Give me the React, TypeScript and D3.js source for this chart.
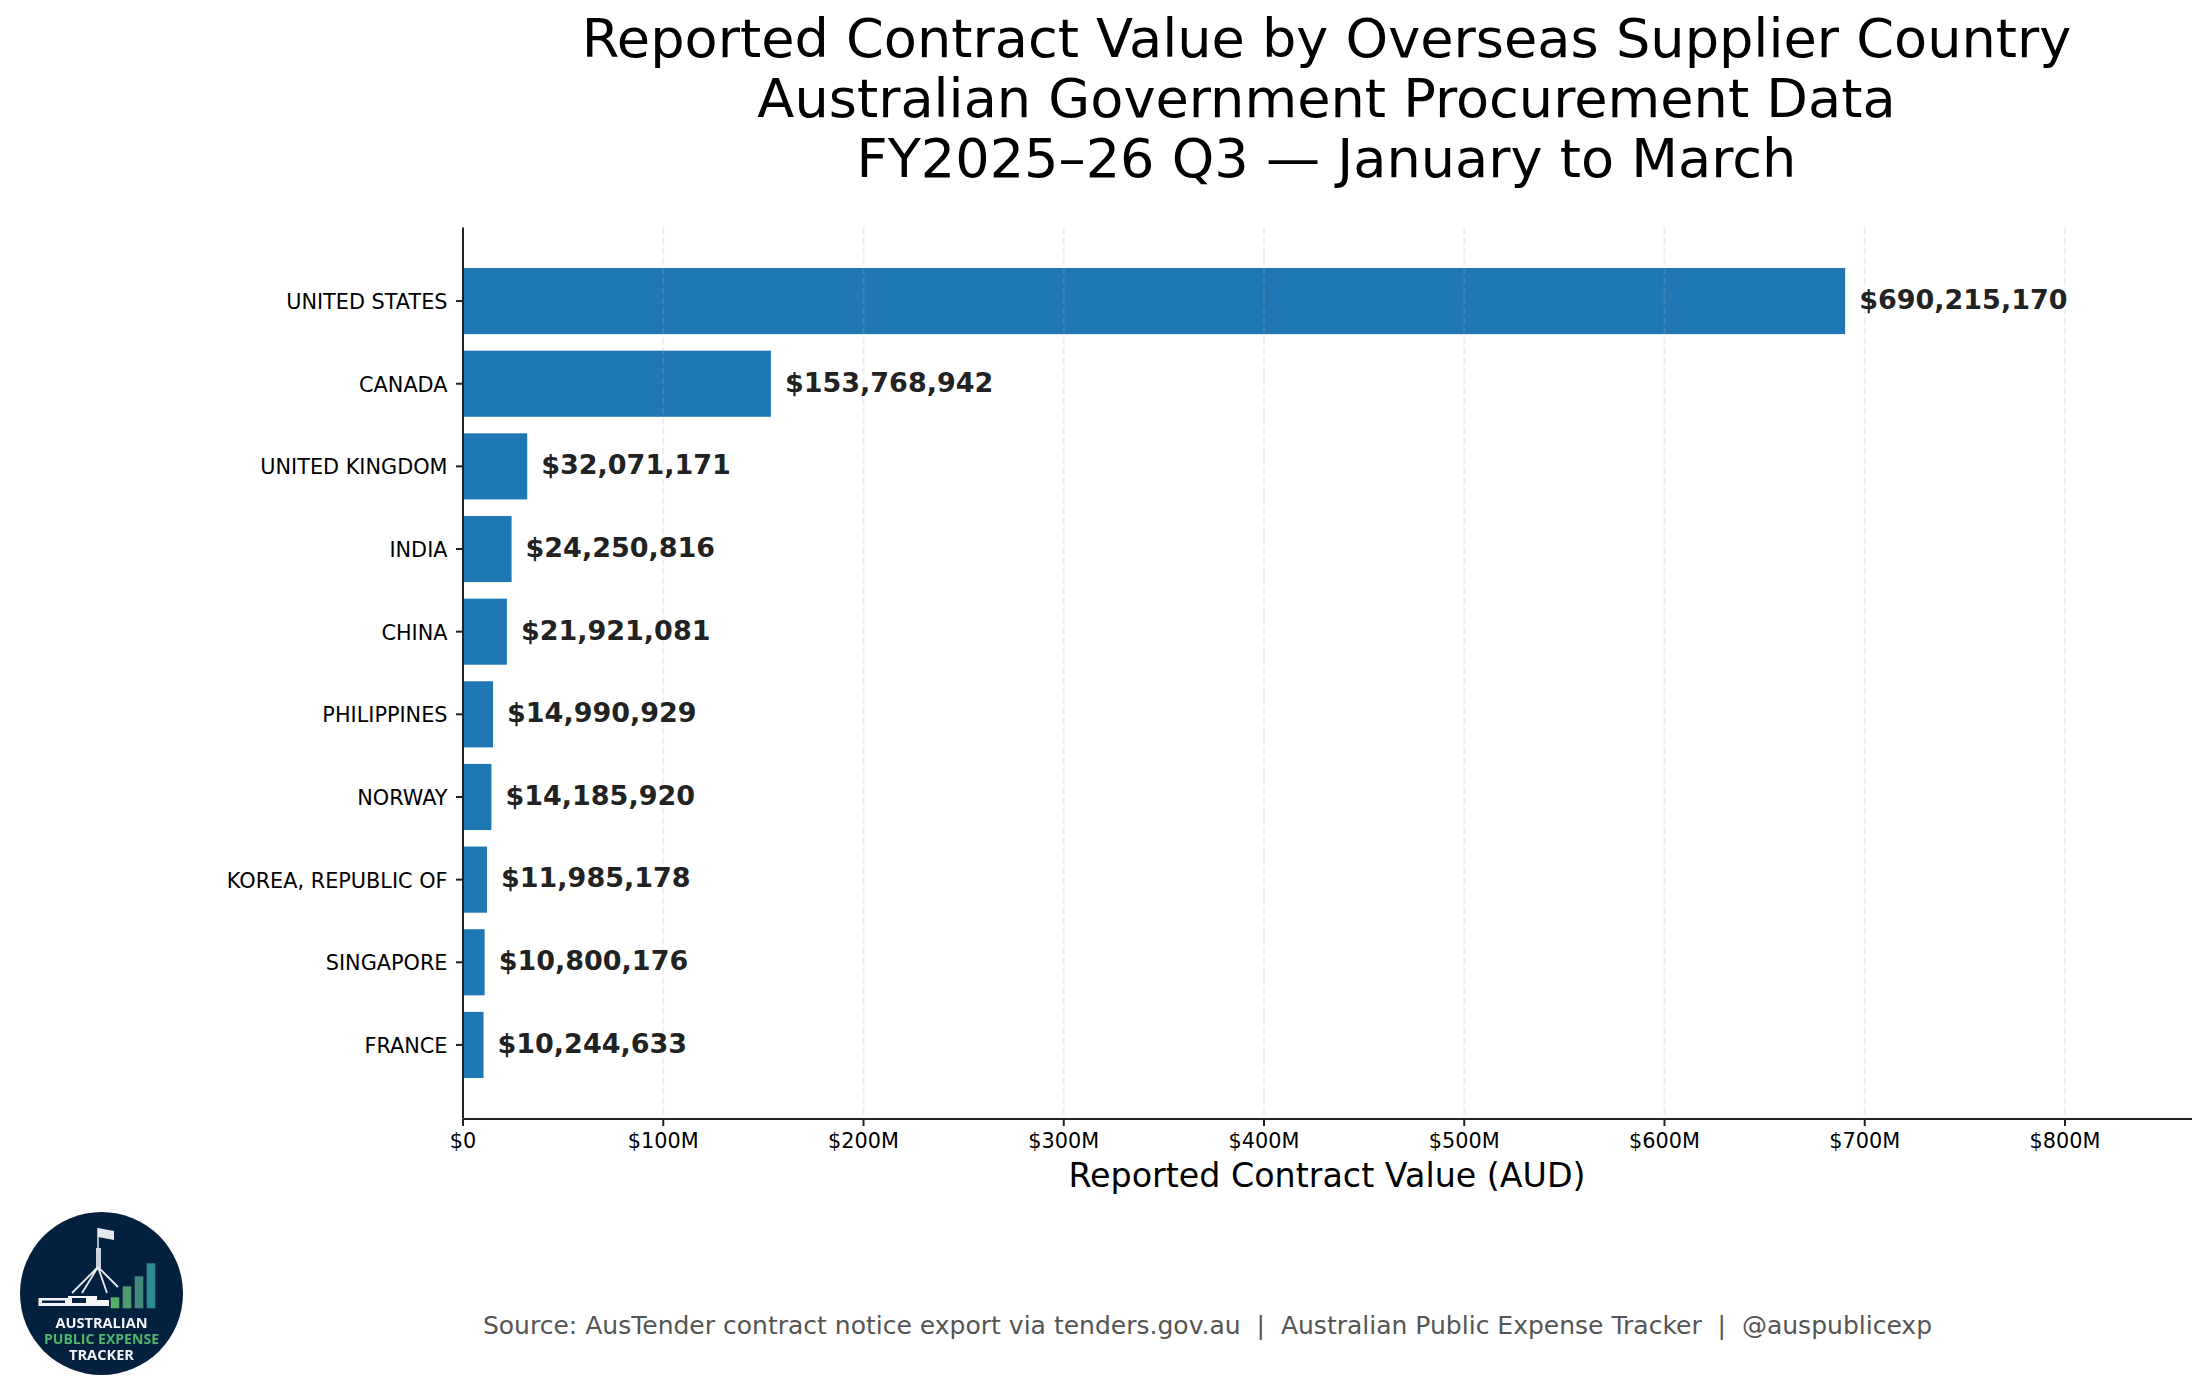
import React, { useEffect, useRef } from 'react';
import * as d3 from 'd3';

const countries = [
  'UNITED STATES',
  'CANADA',
  'UNITED KINGDOM',
  'INDIA',
  'CHINA',
  'PHILIPPINES',
  'NORWAY',
  'KOREA, REPUBLIC OF',
  'SINGAPORE',
  'FRANCE',
];
const contractValues = [
  690215170, 153768942, 32071171, 24250816, 21921081, 14990929, 14185920, 11985178, 10800176, 10244633,
];
const xTicks = [0, 100e6, 200e6, 300e6, 400e6, 500e6, 600e6, 700e6, 800e6];
const titleLines = [
  'Reported Contract Value by Overseas Supplier Country',
  'Australian Government Procurement Data',
  'FY2025–26 Q3 — January to March',
];
const xLabel = 'Reported Contract Value (AUD)';
const sourceText = 'Source: AusTender contract notice export via tenders.gov.au  |  Australian Public Expense Tracker  |  @auspublicexp';
const logoBars = [11, 22, 32, 45];
const logoBarColors = ['#58ad66', '#4f9a70', '#43897b', '#2f8a8e'];

const font = '"DejaVu Sans", sans-serif';

function Logo() {
  const cx = 101.5;
  const cy = 1293.5;
  return (
    <g style={{ filter: 'blur(0.5px)' }}>
      <circle cx={cx} cy={cy} r={81.5} fill="#04203f" />
      {/* parliament house flagpole and legs */}
      <rect x={96} y={1248} width={5} height={20} fill="#c9d2da" />
      <path d="M98 1228 V1250" stroke="#dfe5ea" strokeWidth={1.5} />
      <path d="M98 1228 l16 3 v9 l-16 -3 z" fill="#e4e9ee" />
      <path
        d="M98 1267 L72 1293 M98 1267 L82 1293 M98 1267 L107 1293 M98 1267 L118 1287"
        stroke="#e8edf1"
        strokeWidth={1.8}
        fill="none"
      />
      <rect x={38.5} y={1298} width={30} height={8} fill="#f3f5f7" />
      <rect x={68} y={1296} width={41} height={10} fill="#f3f5f7" />
      <rect x={42} y={1300.5} width={23} height={2.5} fill="#04203f" />
      <rect x={72} y={1298} width={14} height={5} fill="#04203f" />
      <rect x={97} y={1296} width={12} height={4} fill="#04203f" />
      {logoBars.map((h, i) => (
        <rect key={i} x={110.7 + i * 12} y={1308.3 - h} width={8.6} height={h} fill={logoBarColors[i]} />
      ))}
      <g fontFamily='"Open Sans", sans-serif' fontWeight={700} fontSize={14} textAnchor="middle">
        <text x={cx} y={1328} fill="#f2f4f6" textLength={92} lengthAdjust="spacingAndGlyphs">AUSTRALIAN</text>
        <text x={cx} y={1344} fill="#4fb56b" textLength={115} lengthAdjust="spacingAndGlyphs">PUBLIC EXPENSE</text>
        <text x={cx} y={1360} fill="#f2f4f6" textLength={65} lengthAdjust="spacingAndGlyphs">TRACKER</text>
      </g>
    </g>
  );
}

export default function App() {
  const ref = useRef<SVGSVGElement | null>(null);

  useEffect(() => {
    const margin = { top: 227.5, bottom: 278.5, left: 463, right: 13 };
    const width = 2205;
    const height = 1397;

    const svg = d3.select(ref.current);
    const chart = svg.select<SVGGElement>('#chart');
    chart.selectAll('*').remove();

    const xScale = d3
      .scaleLinear()
      .domain([0, (width - margin.right - margin.left) / (200.25 / 100e6)])
      .range([margin.left, width - margin.right]);

    const yScale = d3
      .scaleBand()
      .domain(countries)
      .range([margin.top, height - margin.bottom])
      .paddingInner(0.2)
      .paddingOuter(0.49);

    const axisY = 1119;

    chart
      .selectAll('rect.bar')
      .data(countries)
      .enter()
      .append('rect')
      .attr('class', 'bar')
      .attr('x', margin.left)
      .attr('y', (d) => yScale(d) as number)
      .attr('width', (_, i) => xScale(contractValues[i]) - margin.left)
      .attr('height', yScale.bandwidth())
      .attr('fill', '#1f77b4');

    chart
      .selectAll('line.grid')
      .data(xTicks)
      .enter()
      .append('line')
      .attr('class', 'grid')
      .attr('x1', (d) => xScale(d))
      .attr('x2', (d) => xScale(d))
      .attr('y1', margin.top)
      .attr('y2', axisY)
      .attr('stroke', '#b0b0b0')
      .attr('stroke-opacity', 0.22)
      .attr('stroke-width', 2)
      .attr('stroke-dasharray', '7,3');

    const xAxis = d3
      .axisBottom(xScale)
      .tickValues(xTicks)
      .tickSize(7)
      .tickSizeOuter(0)
      .tickPadding(7)
      .offset(0)
      .tickFormat((d) => (+d === 0 ? '$0' : `$${+d / 1e6}M`));
    const yAxis = d3.axisLeft(yScale).tickSize(7).tickSizeOuter(0).tickPadding(8.5).offset(0);

    const xg = chart.append('g').attr('transform', `translate(0, ${axisY})`).call(xAxis);
    const yg = chart.append('g').attr('transform', `translate(${margin.left}, 0)`).call(yAxis);

    [xg, yg].forEach((g) => {
      g.selectAll('.domain').attr('stroke', '#222').attr('stroke-width', 2);
      g.selectAll('.tick line').attr('stroke', '#222').attr('stroke-width', 2);
      g.selectAll('.tick text').attr('font-family', font).attr('font-size', 20.8).attr('fill', '#000');
    });
    yg.selectAll('.tick text').attr('dy', '0.38em');

    chart
      .selectAll('text.value')
      .data(countries)
      .enter()
      .append('text')
      .attr('class', 'value')
      .attr('x', (_, i) => xScale(contractValues[i]) + 14)
      .attr('y', (d) => (yScale(d) as number) + yScale.bandwidth() / 2)
      .attr('dy', '0.29em')
      .attr('font-family', font)
      .attr('font-weight', 700)
      .attr('font-size', 27)
      .attr('fill', '#222')
      .text((_, i) => d3.format('$,')(contractValues[i]));

    chart
      .append('text')
      .attr('x', 1327)
      .attr('y', 1187)
      .attr('text-anchor', 'middle')
      .attr('font-family', font)
      .attr('font-size', 33.3)
      .text(xLabel);
  }, []);

  return (
    <svg
      ref={ref}
      width={2205}
      height={1397}
      viewBox="0 0 2205 1397"
      style={{ position: 'absolute', left: 0, top: 0, background: '#fff' }}
    >
      <g id="chart" />
      <g fontFamily={font} fontSize={54.15} textAnchor="middle" fill="#000">
        {titleLines.map((line, i) => (
          <text key={line} x={1326.5} y={57 + i * 60}>
            {line}
          </text>
        ))}
      </g>
      <Logo />
      <text x={1207.5} y={1334} textAnchor="middle" fontFamily={font} fontSize={25.02} fill="#555" style={{ whiteSpace: 'pre' }}>
        {sourceText}
      </text>
    </svg>
  );
}
